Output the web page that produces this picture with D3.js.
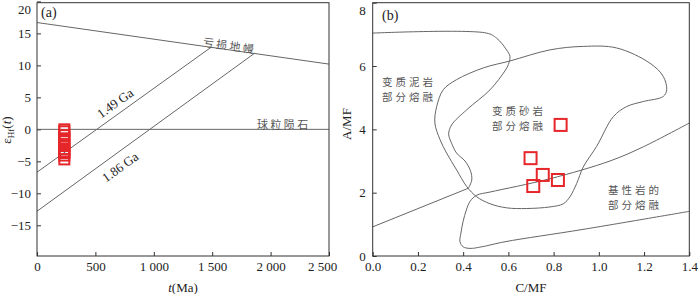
<!DOCTYPE html>
<html>
<head>
<meta charset="utf-8">
<script src="https://cdn.jsdelivr.net/npm/d3@7"></script>
<style>
  body { margin: 0; background: #fff; }
  svg { display: block; }
  .tick text { font-family: "Liberation Serif", serif; font-size: 13px; fill: #222; }
  .cn { font-family: "Noto Sans CJK SC", sans-serif; font-size: 11px; fill: #555; letter-spacing: 2.4px; }
  .cn2 { font-family: "Noto Sans CJK SC", sans-serif; font-size: 10.5px; fill: #555; letter-spacing: 3px; }
  .lab { font-family: "Liberation Serif", serif; font-size: 13px; fill: #222; }
</style>
</head>
<body>
<svg id="chart" width="700" height="294"></svg>
<script>
// panel (a): Hf isotope evolution
const tTicks = [0, 500, 1000, 1500, 2000, 2500];
const eTicks = [-15, -10, -5, 0, 5, 10, 15, 20];
const depletedMantle = [{t: 0, e: 16.7}, {t: 2500, e: 10.2}];
const chur = [{t: 0, e: 0}, {t: 2500, e: 0}];
const crust149 = [{t: 0, e: -6.7}, {t: 1490, e: 12.83}];
const crust186 = [{t: 0, e: -12.8}, {t: 1860, e: 11.86}];
const zirconT = [234, 234, 234, 234, 234, 234, 234, 234, 234, 234, 234, 234];
const zirconE = [0.0, -0.3, -0.9, -1.4, -1.8, -2.3, -2.6, -3.1, -3.5, -3.7, -4.1, -4.7];

// panel (b): A/MF vs C/MF
const cmfTicks = [0, 0.2, 0.4, 0.6, 0.8, 1.0, 1.2, 1.4];
const amfTicks = [0, 2, 4, 6, 8];
const pelite = [[0, 7.04], [0.504, 7.04], [0.548, 6.88], [0.592, 6.51], [0.607, 6.3], [0.6, 6.05],
  [0.585, 5.85], [0.519, 5.25], [0.416, 4.62], [0.349, 4.14], [0.336, 3.85], [0.349, 3.56],
  [0.371, 3.25], [0.408, 3.0], [0.432, 2.7], [0.438, 2.4], [0.423, 2.14]];
const peliteBase = [[0.423, 2.14], [0, 0.92]];
const greywacke = [[0.371, 5.57], [0.489, 5.94], [0.607, 6.16], [0.784, 6.51], [0.931, 6.62],
  [1.079, 6.57], [1.226, 6.09], [1.285, 5.67], [1.3, 5.25], [1.285, 5.04], [1.197, 4.88],
  [1.123, 4.72], [1.064, 4.4], [0.99, 3.46], [0.931, 2.81], [0.902, 2.29], [0.872, 1.87],
  [0.843, 1.65], [0.784, 1.55], [0.681, 1.5], [0.593, 1.52], [0.519, 1.65], [0.46, 1.87],
  [0.416, 2.19], [0.371, 2.72], [0.327, 3.25], [0.298, 3.67], [0.275, 4.2], [0.283, 4.72],
  [0.312, 5.25]];
const basalt = [[1.4, 4.2], [1.197, 3.45], [1.049, 3.0], [0.784, 2.44], [0.519, 2.02], [0.46, 1.92],
  [0.43, 1.72], [0.414, 1.45], [0.4, 1.1], [0.39, 0.72], [0.386, 0.45], [0.4, 0.29], [0.43, 0.24],
  [0.482, 0.29], [0.585, 0.45], [0.93, 0.84], [1.4, 1.41]];
const sampleCMF = [0.831, 0.698, 0.752, 0.819, 0.71];
const sampleAMF = [4.14, 3.09, 2.56, 2.4, 2.21];

const svg = d3.select("#chart");
const red = "#e5262a";
const lineColor = "#666";

// top tick label sits lower so it is not cut by the page edge
function nudgeTop(g, top) {
  g.selectAll(".tick").filter(d => d === top).select("text").attr("dy", "0.9em");
}

// ---------- panel (a) ----------
const xa = d3.scaleLinear().domain([0, 2500]).range([37, 329]);
const ya = d3.scaleLinear().domain([-19.8, 19.8]).range([256, 2.7]);
const ga = svg.append("g");

ga.append("g")
    .attr("transform", `translate(0,${ya.range()[0]})`)
    .call(d3.axisBottom(xa).tickValues(tTicks).tickSize(-4).tickPadding(6)
      .tickFormat(d => d >= 1000 ? Math.floor(d / 1000) + " " + d3.format("03d")(d % 1000) : String(d)))
    .call(g => g.select(".domain").remove())
    .call(g => g.selectAll(".tick").filter(d => d === 2500).select("text").attr("x", -7));

ga.append("g")
    .attr("transform", `translate(${xa.range()[0]},0)`)
    .call(d3.axisLeft(ya).tickValues(eTicks).tickSize(-4).tickPadding(6))
    .call(g => g.select(".domain").remove())
    .call(g => nudgeTop(g, 20));

ga.selectAll(".tick line").attr("stroke", "#333");

const la = d3.line().x(d => xa(d.t)).y(d => ya(d.e));
[depletedMantle, chur, crust149, crust186].forEach(d => {
  ga.append("path").attr("d", la(d)).attr("fill", "none")
    .attr("stroke", lineColor).attr("stroke-width", 1);
});

ga.append("rect")
    .attr("x", xa(0)).attr("y", ya(19.8))
    .attr("width", xa(2500) - xa(0)).attr("height", ya(-19.8) - ya(19.8))
    .attr("fill", "none").attr("stroke", "#333").attr("stroke-width", 1);

const zircons = zirconT.map((t, i) => ({t, e: zirconE[i]}));
ga.selectAll(".zr").data(zircons).enter().append("rect")
    .attr("class", "zr")
    .attr("x", d => xa(d.t) - 5).attr("y", d => ya(d.e) - 5)
    .attr("width", 10).attr("height", 10)
    .attr("fill", "none").attr("stroke", red).attr("stroke-width", 2);

// labels
ga.append("text").attr("class", "lab").attr("x", 41).attr("y", 17).style("font-size", "14px").text("(a)");

function rotatedLabel(g, x, y, angle, txt, cls) {
  return g.append("text").attr("class", cls)
    .attr("transform", `translate(${x},${y}) rotate(${angle})`)
    .attr("text-anchor", "middle").attr("dominant-baseline", "central").text(txt);
}
rotatedLabel(ga, xa(668), ya(4.1), -35.6, "1.49 Ga", "lab");
rotatedLabel(ga, xa(711), ya(-5.9), -35.7, "1.86 Ga", "lab");
rotatedLabel(ga, xa(1650), ya(13.2), 8.2, "亏损地幔", "cn");
ga.append("text").attr("class", "cn").attr("x", 257).attr("y", 124)
    .attr("dominant-baseline", "central").text("球粒陨石");

const yl = ga.append("text").attr("class", "lab")
    .attr("transform", "translate(11,130) rotate(-90)")
    .attr("text-anchor", "middle");
yl.append("tspan").text("ε");
yl.append("tspan").attr("dy", 3).style("font-size", "9px").text("Hf");
yl.append("tspan").attr("dy", -3).text("(");
yl.append("tspan").style("font-style", "italic").text("t");
yl.append("tspan").text(")");

const xl = ga.append("text").attr("class", "lab").attr("x", xa(1250)).attr("y", 292)
    .attr("text-anchor", "middle");
xl.append("tspan").style("font-style", "italic").text("t");
xl.append("tspan").text("(Ma)");

// ---------- panel (b) ----------
const xb = d3.scaleLinear().domain([0, 1.4]).range([372.7, 689.3]);
const yb = d3.scaleLinear().domain([0, 8]).range([256, 2.7]);
const gb = svg.append("g");

gb.append("g")
    .attr("transform", `translate(0,${yb.range()[0]})`)
    .call(d3.axisBottom(xb).tickValues(cmfTicks).tickSize(-4).tickPadding(6).tickFormat(d3.format(".1f")))
    .call(g => g.select(".domain").remove());

gb.append("g")
    .attr("transform", `translate(${xb.range()[0]},0)`)
    .call(d3.axisLeft(yb).tickValues(amfTicks).tickSize(-4).tickPadding(7))
    .call(g => g.select(".domain").remove())
    .call(g => nudgeTop(g, 8));

gb.selectAll(".tick line").attr("stroke", "#333");

const lb = d3.line().x(d => xb(d[0])).y(d => yb(d[1]));
gb.append("path").attr("d", lb.curve(d3.curveCatmullRom.alpha(0.5))(pelite))
    .attr("fill", "none").attr("stroke", lineColor);
gb.append("path").attr("d", lb.curve(d3.curveLinear)(peliteBase))
    .attr("fill", "none").attr("stroke", lineColor);
gb.append("path").attr("d", lb.curve(d3.curveCatmullRomClosed.alpha(0.5))(greywacke))
    .attr("fill", "none").attr("stroke", lineColor);
gb.append("path").attr("d", lb.curve(d3.curveCatmullRom.alpha(0.5))(basalt))
    .attr("fill", "none").attr("stroke", lineColor);

gb.append("rect")
    .attr("x", xb(0)).attr("y", yb(8))
    .attr("width", xb(1.4) - xb(0)).attr("height", yb(0) - yb(8))
    .attr("fill", "none").attr("stroke", "#333").attr("stroke-width", 1);

const samples = sampleCMF.map((c, i) => ({c, a: sampleAMF[i]}));
gb.selectAll(".smp").data(samples).enter().append("rect")
    .attr("class", "smp")
    .attr("x", d => xb(d.c) - 6).attr("y", d => yb(d.a) - 6)
    .attr("width", 12).attr("height", 12)
    .attr("fill", "none").attr("stroke", red).attr("stroke-width", 2);

gb.append("text").attr("class", "lab").attr("x", 382).attr("y", 20).style("font-size", "14px").text("(b)");

// two-line field names
function cnBlock(g, x, y, lines) {
  lines.forEach((s, i) => {
    g.append("text").attr("class", "cn2").attr("x", x).attr("y", y + i * 15)
      .attr("dominant-baseline", "central").text(s);
  });
}
cnBlock(gb, 382, 81, ["变质泥岩", "部分熔融"]);
cnBlock(gb, 492, 110, ["变质砂岩", "部分熔融"]);
cnBlock(gb, 608, 189, ["基性岩的", "部分熔融"]);

gb.append("text").attr("class", "lab")
    .attr("transform", "translate(351,124) rotate(-90)")
    .attr("text-anchor", "middle").text("A/MF");
gb.append("text").attr("class", "lab").attr("x", xb(0.7)).attr("y", 292)
    .attr("text-anchor", "middle").text("C/MF");
</script>
</body>
</html>
